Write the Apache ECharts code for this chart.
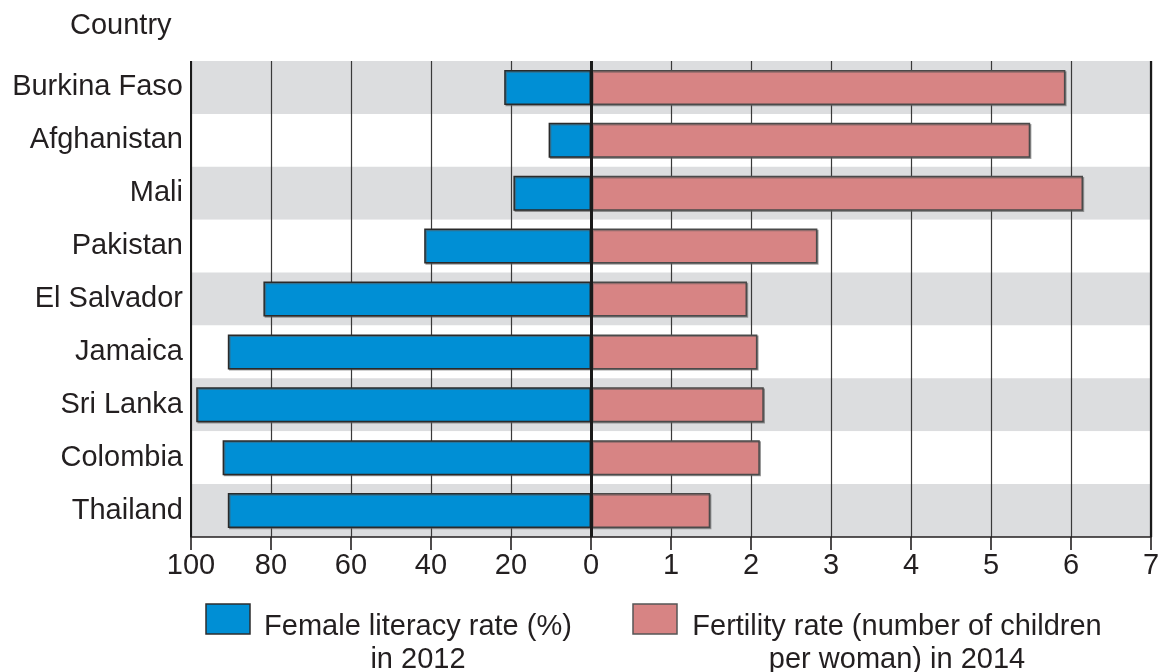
<!DOCTYPE html>
<html>
<head>
<meta charset="utf-8">
<script src="https://cdn.jsdelivr.net/npm/echarts@6/dist/echarts.min.js"></script>
<style>
html,body{margin:0;padding:0;background:#fff;}
#c{width:1168px;height:672px;}
</style>
</head>
<body>
<div id="c"></div>
<script>
var countries = ['Burkina Faso','Afghanistan','Mali','Pakistan','El Salvador','Jamaica','Sri Lanka','Colombia','Thailand'];
var literacy = [21.7, 10.6, 19.4, 41.7, 81.9, 90.8, 98.7, 92.1, 90.8];
var fertility = [5.93, 5.49, 6.15, 2.83, 1.95, 2.08, 2.16, 2.11, 1.49];
var literacyTicks = [0, 100, 20];
var fertilityTicks = [0, 7, 1];
var literacyName = 'Female literacy rate (%)\nin 2012';
var fertilityName = 'Fertility rate (number of children\nper woman) in 2014';

var FONT = '"Liberation Sans", Arial, Helvetica, sans-serif';
var FS = 29;
var TXT = '#231f20';
var BLUE = '#008fd5';
var PINK = '#d78484';
var BAND = ['#dcdddf', '#ffffff'];

var chart = echarts.init(document.getElementById('c'), null, {renderer: 'canvas'});

function xAx(idx, ticks, inverse, hideMin) {
  return {
    type: 'value', gridIndex: idx, min: ticks[0], max: ticks[1], interval: ticks[2],
    inverse: inverse, z: 1,
    axisLine: {show: true, lineStyle: {color: '#231f20', width: 1.6}},
    axisTick: {show: true, length: 13, lineStyle: {color: '#231f20', width: 1.6}},
    axisLabel: {show: true, margin: 14, fontFamily: FONT, fontSize: FS, color: TXT, showMinLabel: !hideMin},
    splitLine: {show: true, lineStyle: {color: '#3a3a3a', width: 1.2}}
  };
}
function yAx(idx, showLabel) {
  return {
    type: 'category', gridIndex: idx, data: countries, inverse: true, z: 0,
    axisLine: {show: false},
    axisTick: {show: false},
    axisLabel: {show: showLabel, margin: 8, fontFamily: FONT, fontSize: FS, color: TXT},
    splitLine: {show: false},
    splitArea: {show: true, areaStyle: {color: BAND}}
  };
}

var barStyle = function(c, b) {
  return {color: c, borderColor: b, borderWidth: 1.5,
    shadowColor: 'rgba(90,90,90,0.55)', shadowOffsetX: 1.2, shadowOffsetY: 1.2, shadowBlur: 0};
};
function vline(v, w) {
  return {silent: true, symbol: ['none', 'none'], label: {show: false},
    lineStyle: {color: '#1a1a1a', width: w, type: 'solid'}, data: [{xAxis: v}]};
}

var option = {
  animation: false,
  backgroundColor: '#fff',
  grid: [
    {left: 191, top: 61, width: 400, height: 476},
    {left: 591, top: 61, width: 560, height: 476}
  ],
  xAxis: [xAx(0, literacyTicks, true, false), xAx(1, fertilityTicks, false, true)],
  yAxis: [yAx(0, true), yAx(1, false)],
  series: [
    {name: 'Female literacy', type: 'bar', xAxisIndex: 0, yAxisIndex: 0, data: literacy,
     barWidth: 35, itemStyle: barStyle(BLUE, '#2a2a2a'), z: 3, markLine: vline(literacyTicks[1], 2)},
    {name: 'Fertility', type: 'bar', xAxisIndex: 1, yAxisIndex: 1, data: fertility,
     barWidth: 35, itemStyle: barStyle(PINK, '#4a4a4a'), z: 3,
     markLine: {silent: true, symbol: ['none', 'none'], label: {show: false},
       lineStyle: {color: '#1a1a1a', type: 'solid'},
       data: [{xAxis: fertilityTicks[0], lineStyle: {width: 3}}, {xAxis: fertilityTicks[1], lineStyle: {width: 2.2}}]}}
  ],
  graphic: [
    {type: 'rect', z: 100, silent: true, shape: {x: 180, y: 0, width: 988, height: 60.5},
     style: {fill: '#ffffff', stroke: null}},
    {type: 'text', z: 101, left: 70, top: 11, style: {text: 'Country', font: FS + 'px ' + FONT, fill: TXT}},
    {type: 'rect', z: 101, shape: {x: 206, y: 604, width: 44, height: 30},
     style: {fill: BLUE, stroke: '#2e2e2e', lineWidth: 1.5}},
    {type: 'text', z: 101, x: 418, y: 643, style: {text: literacyName, font: FS + 'px ' + FONT, fill: TXT,
      align: 'center', verticalAlign: 'middle', lineHeight: 33}},
    {type: 'rect', z: 101, shape: {x: 633, y: 604, width: 44, height: 30},
     style: {fill: PINK, stroke: '#555', lineWidth: 1.5}},
    {type: 'text', z: 101, x: 897, y: 643, style: {text: fertilityName, font: FS + 'px ' + FONT, fill: TXT,
      align: 'center', verticalAlign: 'middle', lineHeight: 33}}
  ]
};
chart.setOption(option);
</script>
</body>
</html>
